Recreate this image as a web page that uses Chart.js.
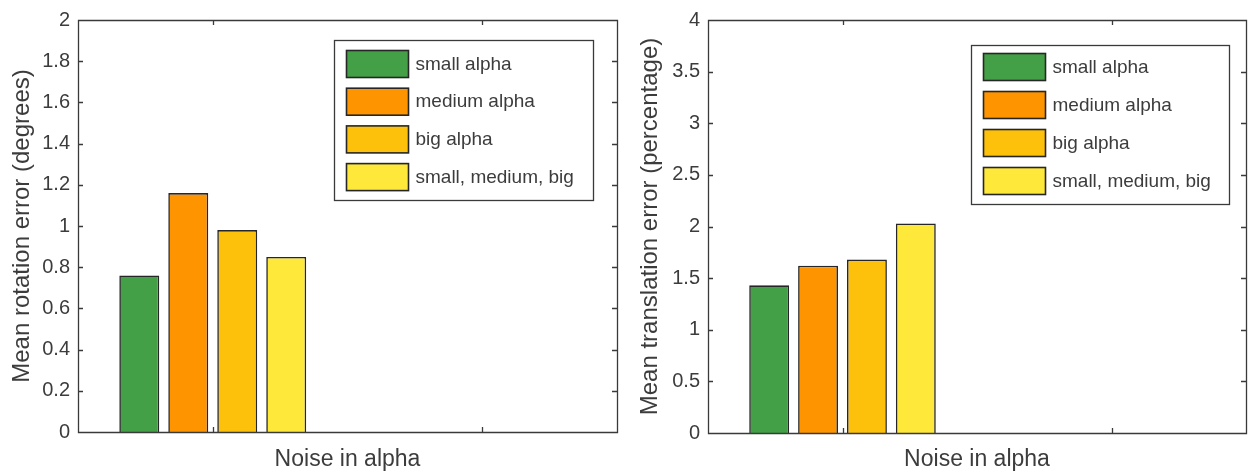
<!DOCTYPE html>
<html>
<head>
<meta charset="utf-8">
<script src="https://cdn.jsdelivr.net/npm/chart.js@4.4.0/dist/chart.umd.min.js"></script>
<style>
  body { margin: 0; background: #fff; }
  #wrap { position: relative; width: 1256px; height: 473px; }
  canvas { position: absolute; top: 0; }
</style>
</head>
<body>
<div id="wrap">
  <canvas id="rot" width="628" height="473" style="left:0"></canvas>
  <canvas id="trans" width="628" height="473" style="left:628px"></canvas>
</div>
<script>
// data
const categories = ['1', '2']; // second group is empty
const seriesNames = ['small alpha', 'medium alpha', 'big alpha', 'small, medium, big'];
const seriesColors = ['#43a047', '#fd9400', '#fec10b', '#fee83a'];
const rotationError = [0.76, 1.16, 0.98, 0.85];
const translationError = [1.43, 1.62, 1.68, 2.03];
const rotationAxis = { max: 2, step: 0.2 };
const translationAxis = { max: 4, step: 0.5 };

const FONT = "'Liberation Sans', Arial, sans-serif";
const TEXT = '#3c3c3c';
const LINE = '#3a3a3a';

// box + inward ticks on all four sides (matlab style)
const frame = {
  id: 'frame',
  afterDatasetsDraw(chart) {
    const { ctx, chartArea: a, scales: { x, y } } = chart;
    const len = 5;
    ctx.save();
    ctx.strokeStyle = LINE;
    ctx.lineWidth = 1.3;
    ctx.beginPath();
    ctx.rect(Math.round(a.left) + 0.5, Math.round(a.top) + 0.5, Math.round(a.width), Math.round(a.height));
    y.ticks.forEach((t, i) => {
      const py = Math.round(y.getPixelForTick(i)) + 0.5;
      ctx.moveTo(a.left, py); ctx.lineTo(a.left + len, py);
      ctx.moveTo(a.right, py); ctx.lineTo(a.right - len, py);
    });
    x.ticks.forEach((t, i) => {
      const px = Math.round(x.getPixelForTick(i)) + 0.5;
      ctx.moveTo(px, a.bottom); ctx.lineTo(px, a.bottom - len);
      ctx.moveTo(px, a.top); ctx.lineTo(px, a.top + len);
    });
    ctx.stroke();
    ctx.restore();
  }
};

// legend box inside the plot, top right
const boxLegend = {
  id: 'boxLegend',
  afterDraw(chart, args, opts) {
    const { ctx, chartArea: a } = chart;
    const bx = Math.round(a.right - opts.right - opts.width) + 0.5;
    const by = Math.round(a.top + opts.top) + 0.5;
    ctx.save();
    ctx.fillStyle = '#fff';
    ctx.strokeStyle = LINE;
    ctx.lineWidth = 1.3;
    ctx.fillRect(bx, by, opts.width, opts.height);
    ctx.strokeRect(bx, by, opts.width, opts.height);
    ctx.font = '19px ' + FONT;
    ctx.textBaseline = 'middle';
    chart.data.datasets.forEach((ds, i) => {
      const sy = by + opts.first + i * opts.pitch;
      ctx.fillStyle = ds.backgroundColor;
      ctx.fillRect(bx + 12, sy, 62, 27);
      ctx.strokeStyle = '#262626';
      ctx.lineWidth = 1.6;
      ctx.strokeRect(bx + 12, sy, 62, 27);
      ctx.fillStyle = TEXT;
      ctx.fillText(ds.label, bx + 12 + 62 + 7, sy + 14);
    });
    ctx.restore();
  }
};

function makeChart(id, values, axis, yTitle, pad, legendBox) {
  const datasets = seriesNames.map((name, i) => ({
    label: name,
    data: [values[i], null],
    backgroundColor: seriesColors[i],
    borderColor: '#262626',
    borderWidth: 1.6,
    categoryPercentage: 0.727,
    barPercentage: 0.816,
  }));
  return new Chart(document.getElementById(id), {
    type: 'bar',
    data: { labels: categories, datasets: datasets },
    options: {
      responsive: false,
      animation: false,
      layout: { padding: { top: pad.top, right: pad.right, left: 0, bottom: 0 } },
      plugins: {
        legend: { display: false },
        tooltip: { enabled: false },
        boxLegend: legendBox,
      },
      scales: {
        x: {
          ticks: { display: false },
          grid: { display: false, drawTicks: false },
          border: { display: false },
          title: { display: true, text: 'Noise in alpha', color: TEXT, font: { family: FONT, size: 23 }, padding: { top: 0, bottom: 0 } },
          afterFit(s) { s.height = pad.bottom; },
        },
        y: {
          min: 0,
          max: axis.max,
          ticks: {
            stepSize: axis.step, padding: 8, color: TEXT, font: { family: FONT, size: 20 },
            callback: (v) => String(parseFloat(v.toFixed(2))),
          },
          grid: { display: false, drawTicks: false },
          border: { display: false },
          title: { display: true, text: yTitle, color: TEXT, font: { family: FONT, size: 24 }, padding: { top: 8, bottom: 0 } },
          afterFit(s) { s.width = pad.left; },
        },
      },
    },
    plugins: [frame, boxLegend],
  });
}

makeChart('rot', rotationError, rotationAxis, 'Mean rotation error (degrees)',
  { top: 16, right: 11, left: 78, bottom: 41 },
  { right: 24, top: 20, width: 259, height: 160, first: 10, pitch: 37.7 });
makeChart('trans', translationError, translationAxis, 'Mean translation error (percentage)',
  { top: 17, right: 10, left: 80, bottom: 40 },
  { right: 17, top: 25, width: 258, height: 159, first: 8, pitch: 38 });
</script>
</body>
</html>
